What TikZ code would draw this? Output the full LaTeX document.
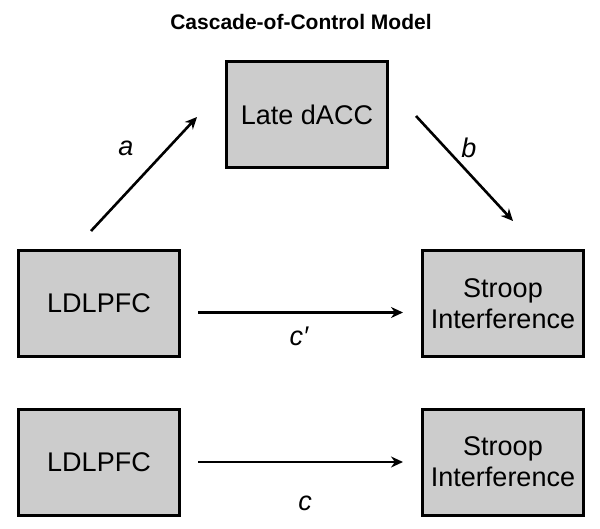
\documentclass[tikz,border=0pt]{standalone}
\usepackage{fontspec}
\setmainfont{Liberation Sans}
\usetikzlibrary{arrows.meta}

\begin{document}
\begin{tikzpicture}[x=1pt,y=-1pt,
		box/.style={draw,line width=3pt,fill=black!20,minimum width=161pt,minimum height=106pt,
			align=center,inner sep=0pt,font=\fontsize{27}{31}\selectfont},
		path/.style={line width=2.6pt,-{Stealth[length=12pt,width=11pt]}},
		lbl/.style={font=\fontsize{27}{30}\selectfont\itshape}]
		\useasboundingbox (0,0) rectangle (600,529);
		\node[font=\bfseries\fontsize{21}{25}\selectfont] (title) at (301,22) {Cascade-of-Control Model};
		% mediation model
		\node[box] (dacc) at (307,115) {Late dACC};
		\node[box] (ldl1) at (99,303.5) {LDLPFC};
		\node[box] (str1) at (503,303.5) {Stroop\\Interference};
		\draw[path] ([shift={(-8,-18)}]ldl1.north) -- ([shift={(-28,2)}]dacc.west);
		\draw[path] ([shift={(27,1)}]dacc.east) -- ([shift={(10,-28)}]str1.north);
		\draw[path] ([shift={(17,9)}]ldl1.east) -- ([shift={(-18,9)}]str1.west);
		\node[lbl] (la) at (126,148) {a};
		\node[lbl] (lb) at (469,148) {b};
		\node[lbl] (lc1) at (299,336) {c′};
		% total effect
		\node[box] (ldl2) at (99,462) {LDLPFC};
		\node[box] (str2) at (503,462) {Stroop\\Interference};
		\draw[path] ([xshift=17pt]ldl2.east) -- ([xshift=-18pt]str2.west);
		\node[lbl] (lc2) at (305,503) {c};
\end{tikzpicture}
\end{document}
